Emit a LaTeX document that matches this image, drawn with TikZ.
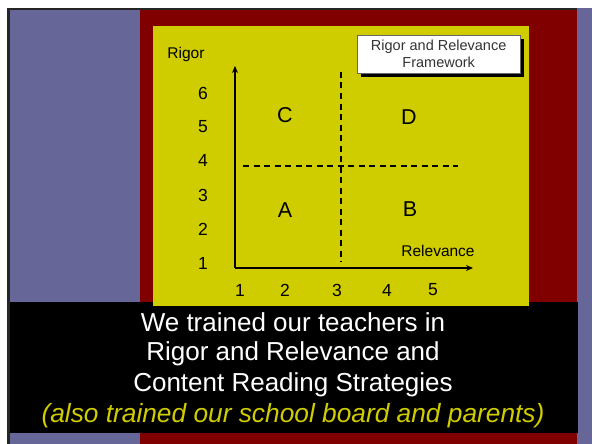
\documentclass[tikz,border=0pt]{standalone}
\usepackage{fontspec}
\setmainfont{Liberation Sans}
\usetikzlibrary{arrows.meta}
\definecolor{slpurple}{HTML}{666699}
\definecolor{slred}{HTML}{800000}
\definecolor{slyellow}{HTML}{CFCC00}
\definecolor{titlegray}{HTML}{333333}
\tikzset{
  numlbl/.style={font=\fontsize{17.5}{17.5}\selectfont, text=black, inner sep=0pt},
  quadlbl/.style={font=\fontsize{21.5}{21.5}\selectfont, text=black, inner sep=0pt},
  axlbl/.style={font=\fontsize{15.5}{15.5}\selectfont, text=black, inner sep=0pt},
  axisline/.style={line width=1.7pt, -{Stealth[length=7pt,width=6pt]}},
  dashline/.style={line width=1.5pt, dash pattern=on 6pt off 4.5pt},
  bandtext/.style={font=\fontsize{26}{31}\selectfont, text=white, inner sep=0pt},
}
\begin{document}
\begin{tikzpicture}[x=1pt,y=-1pt]
\useasboundingbox (0,0) rectangle (592,444);
\fill[white] (0,0) rectangle (592,444);
% background strips
\fill[slpurple] (10,10) rectangle (140,444);
\fill[slred] (140,10) rectangle (577,444);
\fill[slpurple] (577,8) rectangle (592,444);
\fill[black!85] (7,8) rectangle (10,444);
\fill[black!85] (7,8) rectangle (577,10);
% black text band
\fill[black] (10,302) rectangle (578,433);
% yellow panel
\fill[slyellow] (153,26) rectangle (529,306);
% title box with shadow
\fill[black] (361,39) rectangle (524,77);
\node[draw=black!60, line width=0.4pt, fill=white, minimum width=163pt, minimum height=38pt, inner sep=0pt, anchor=north west] (title) at (357,35) {};
\node[font=\fontsize{14.5}{17}\selectfont, text=titlegray, align=center, inner sep=0pt] (titletext) at (title.center) {Rigor and Relevance\\Framework};
% axes
\coordinate (origin) at (235,268);
\coordinate (ytip) at (235,66);
\coordinate (xtip) at (473,268);
\draw[axisline] (origin) -- (ytip);
\draw[axisline] (origin) -- (xtip);
% dashed lines
\coordinate (hd1) at (243,166);
\coordinate (hd2) at (458,166);
\coordinate (vd1) at (341,72);
\coordinate (vd2) at (341,262);
\draw[dashline] (hd1) -- (hd2);
\draw[dashline] (vd1) -- (vd2);
% axis labels
\node[axlbl] (rigor) at (186,54) {Rigor};
\node[axlbl] (relevance) at (438,251) {Relevance};
% y numbers
\node[numlbl] (y6) at (203,93) {6};
\node[numlbl] (y5) at (203,127) {5};
\node[numlbl] (y4) at (203,160) {4};
\node[numlbl] (y3) at (203,195) {3};
\node[numlbl] (y2) at (203,229) {2};
\node[numlbl] (y1) at (203,263) {1};
% x numbers
\node[numlbl] (x1) at (240,290) {1};
\node[numlbl] (x2) at (285,290) {2};
\node[numlbl] (x3) at (337,290) {3};
\node[numlbl] (x4) at (387,290) {4};
\node[numlbl] (x5) at (433,290) {5};
% quadrants
\node[quadlbl] (qC) at (285,115) {C};
\node[quadlbl] (qD) at (409,117) {D};
\node[quadlbl] (qA) at (285,210) {A};
\node[quadlbl] (qB) at (410,209) {B};
% band text
\node[bandtext] (l1) at (293,322) {We trained our teachers in};
\node[bandtext] (l2) at (293,354) {Rigor and Relevance and};
\node[bandtext] (l3) at (293,385) {Content Reading Strategies};
\node[bandtext, text=slyellow, font=\fontsize{26.3}{31}\selectfont\itshape] (l4) at (293,416) {(also trained our school board and parents)};
\end{tikzpicture}
\end{document}
